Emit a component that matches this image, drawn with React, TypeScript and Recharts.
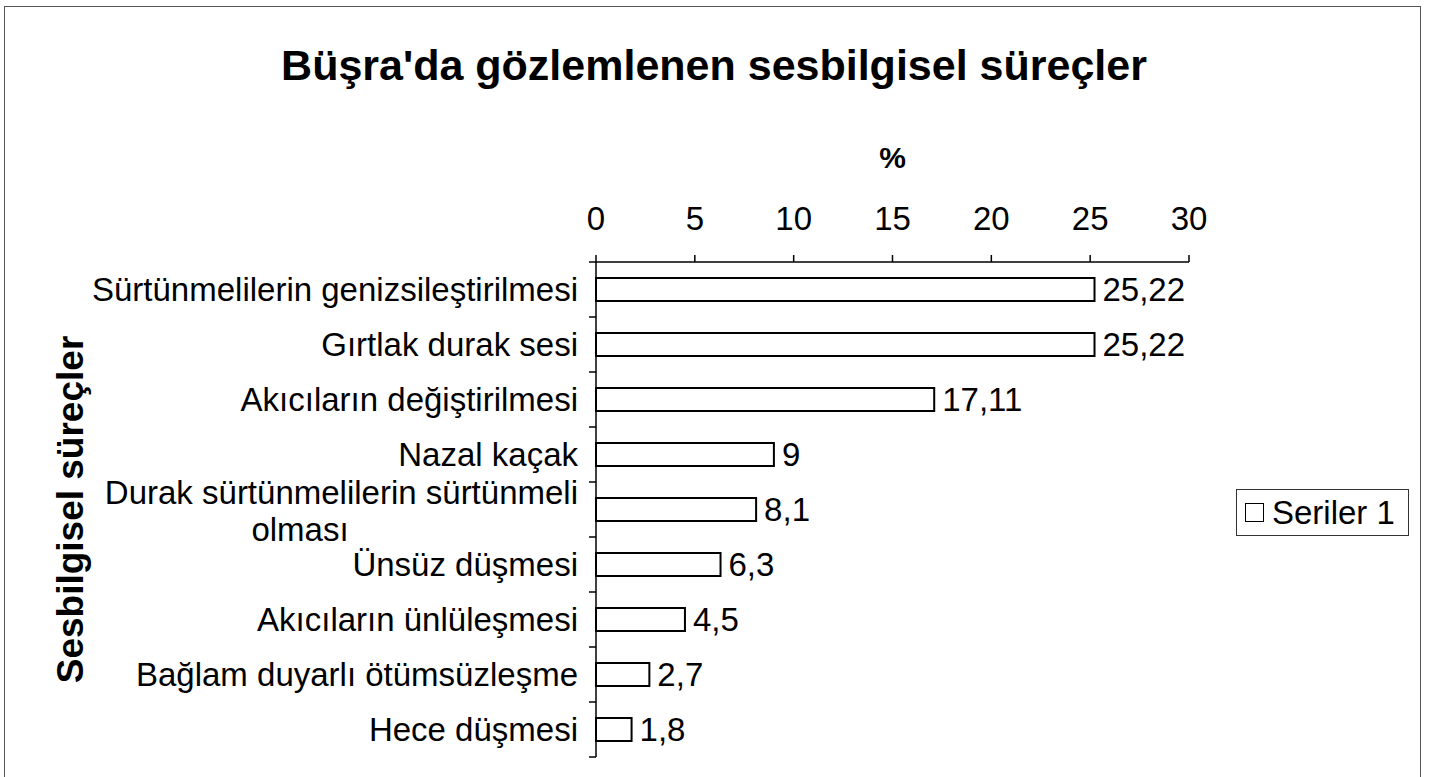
import { BarChart, Bar, XAxis, YAxis, LabelList, Legend } from "recharts";

const categories = [
  "Sürtünmelilerin genizsileştirilmesi",
  "Gırtlak durak sesi",
  "Akıcıların değiştirilmesi",
  "Nazal kaçak",
  "Durak sürtünmelilerin sürtünmeli\nolması",
  "Ünsüz düşmesi",
  "Akıcıların ünlüleşmesi",
  "Bağlam duyarlı ötümsüzleşme",
  "Hece düşmesi",
];

const values = [25.22, 25.22, 17.11, 9, 8.1, 6.3, 4.5, 2.7, 1.8];

const xTicks = [0, 5, 10, 15, 20, 25, 30];

const seriesName = "Seriler 1";
const title = "Büşra'da gözlemlenen sesbilgisel süreçler";
const xTitle = "%";
const yTitle = "Sesbilgisel süreçler";

const data = categories.map((name, i) => ({ name, value: values[i] }));

const FONT = "'Liberation Sans', Arial, sans-serif";
const FS = 33;
const TICK_GAP = 18;

// category label plus the small boundary marks Excel puts between categories
function CategoryTick(props: any) {
  const { x, y, payload, index, visibleTicksCount } = props;
  const half = payload?.offset ?? 27.5;
  const axisX = x + TICK_GAP;
  const lines: string[] = String(payload.value).split("\n");
  const marks = [y - half];
  if (index === visibleTicksCount - 1) marks.push(y + half);
  return (
    <g>
      {marks.map((my, i) => (
        <line key={i} x1={axisX - 7} x2={axisX} y1={my} y2={my} stroke="#000" strokeWidth={1.5} />
      ))}
      {lines.length === 1 ? (
        <text x={x} y={y} dy="0.35em" textAnchor="end" fontSize={FS} fontFamily={FONT} fill="#000">
          {lines[0]}
        </text>
      ) : (
        <>
          <text x={x} y={y - 17} dy="0.35em" textAnchor="end" fontSize={FS} fontFamily={FONT} fill="#000">
            {lines[0]}
          </text>
          <text x={x - 278} y={y + 20} dy="0.35em" textAnchor="middle" fontSize={FS} fontFamily={FONT} fill="#000">
            {lines[1]}
          </text>
        </>
      )}
    </g>
  );
}

function YTitle(props: any) {
  const vb = props.viewBox || {};
  const cx = 70;
  const cy = (vb.y ?? 262) + (vb.height ?? 495) / 2;
  return (
    <text
      x={cx}
      y={cy}
      dy="0.35em"
      textAnchor="middle"
      transform={`rotate(-90, ${cx}, ${cy})`}
      fontSize={37}
      fontWeight="bold"
      fontFamily={FONT}
      fill="#000"
    >
      {yTitle}
    </text>
  );
}

function LegendBox() {
  return (
    <div
      style={{
        border: "1px solid #333",
        width: 173,
        height: 47,
        boxSizing: "border-box",
        display: "flex",
        alignItems: "center",
        paddingLeft: 8,
        fontFamily: FONT,
        fontSize: FS,
        color: "#000",
        background: "#fff",
        whiteSpace: "nowrap",
      }}
    >
      <span
        style={{
          display: "inline-block",
          width: 17,
          height: 17,
          border: "1.5px solid #000",
          marginRight: 8,
        }}
      />
      {seriesName}
    </div>
  );
}

export default function App() {
  return (
    <div style={{ position: "absolute", left: 0, top: 0, width: 1430, height: 777, background: "#fff", overflow: "hidden" }}>
      <div
        style={{
          position: "absolute",
          left: 4,
          top: 6,
          width: 1417,
          height: 800,
          border: "1.5px solid #555",
          boxSizing: "border-box",
        }}
      />
      <div
        style={{
          position: "absolute",
          left: 0,
          top: 40,
          width: 1428,
          textAlign: "center",
          fontFamily: FONT,
          fontWeight: "bold",
          fontSize: 43,
          lineHeight: "50px",
          color: "#000",
        }}
      >
        {title}
      </div>
      <div style={{ position: "absolute", left: 0, top: 0 }}>
        <BarChart
          width={1430}
          height={777}
          data={data}
          layout="vertical"
          margin={{ top: 202, right: 68, left: 36, bottom: 20 }}
        >
          <YAxis
            type="category"
            dataKey="name"
            width={560}
            axisLine={{ stroke: "#000", strokeWidth: 1.5 }}
            tickLine={false}
            tickSize={0}
            tickMargin={TICK_GAP}
            interval={0}
            tick={<CategoryTick />}
            label={<YTitle />}
          />
          <XAxis
            type="number"
            orientation="top"
            domain={[0, 30]}
            ticks={xTicks}
            height={60}
            tickSize={7}
            tickMargin={25}
            axisLine={{ stroke: "#000", strokeWidth: 1.5 }}
            tickLine={{ stroke: "#000", strokeWidth: 1.5 }}
            tick={{ fontSize: FS, fontFamily: FONT, fill: "#000" }}
            label={{
              value: xTitle,
              position: "top",
              offset: 34,
              fontSize: 30,
              fontWeight: "bold",
              fontFamily: FONT,
              fill: "#000",
            }}
          />
          <Legend
            layout="horizontal"
            verticalAlign="middle"
            align="right"
            content={<LegendBox />}
            wrapperStyle={{ left: 1236, top: 489, right: "auto", bottom: "auto", width: 173 }}
          />
          <Bar
            dataKey="value"
            name={seriesName}
            fill="#fff"
            stroke="#000"
            strokeWidth={2}
            barSize={23}
            isAnimationActive={false}
          >
            <LabelList
              dataKey="value"
              position="right"
              offset={8}
              formatter={(v: any) => String(v).replace(".", ",")}
              style={{ fontSize: FS, fontFamily: FONT, fill: "#000" }}
            />
          </Bar>
        </BarChart>
      </div>
    </div>
  );
}
